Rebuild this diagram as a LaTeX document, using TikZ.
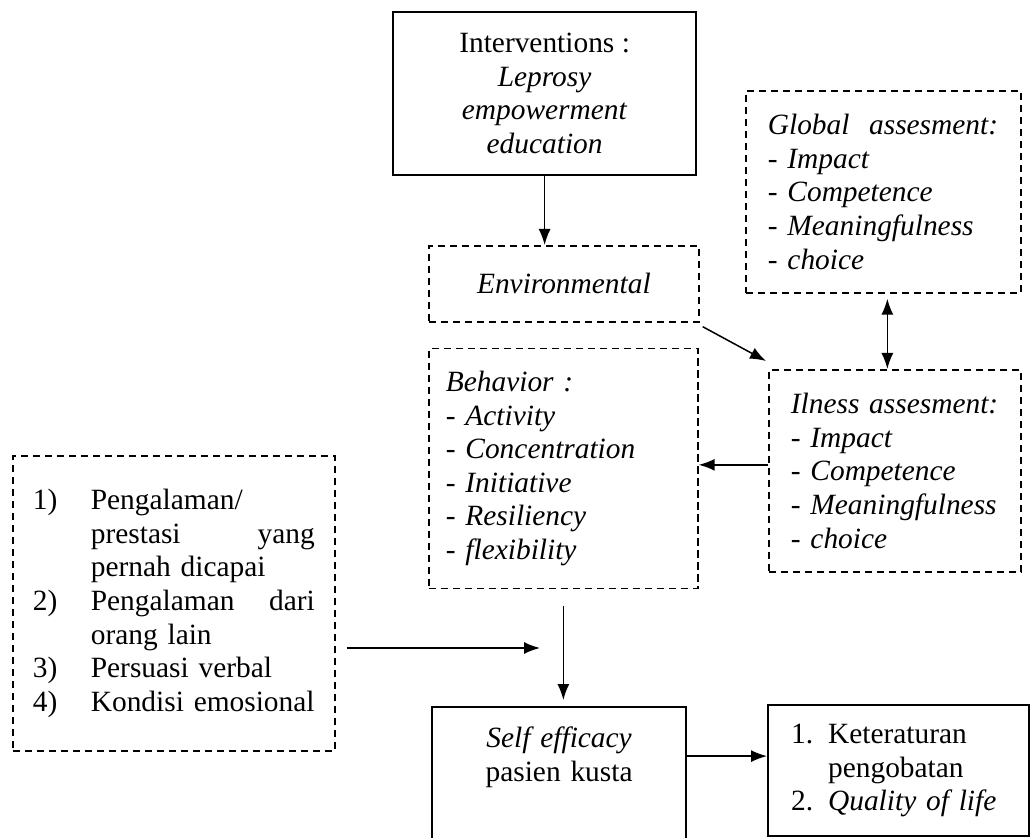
\documentclass[tikz,border=0pt]{standalone}
\usepackage{fontspec}
\setmainfont{Liberation Serif}
\usetikzlibrary{positioning,arrows.meta}
\newcommand{\numat}[2]{\makebox[#1][l]{#2}}

\begin{document}
\begin{tikzpicture}[x=0.5pt, y=-0.5pt, font=\fontsize{14.7}{16.8}\selectfont,
  >={Latex[length=8pt, width=6pt]},
  box/.style={draw, line width=1.1pt, anchor=north west, inner ysep=0pt},
  dbox/.style={box, line width=0.85pt, dash pattern=on 3.6pt off 2.4pt},
  ital/.style={font=\fontsize{14.7}{16.8}\selectfont\itshape},
  arr/.style={->, line width=0.75pt},
  dbl/.style={<->, line width=0.75pt}]
\useasboundingbox (0,0) rectangle (1031,838);

% middle column: intervention, environment, behaviour
\node[box, minimum width=151.5pt, minimum height=81.5pt, inner xsep=0pt, align=center] (intv) at (392,11)
  {Interventions :\\ \textit{Leprosy}\\ \textit{empowerment}\\ \textit{education}};
\node[dbox, ital, minimum width=135pt, minimum height=38pt, align=center] (env) at (428,245) {Environmental};
\node[dbox, ital, below=12.5pt of env.south west, anchor=north west, minimum width=134.5pt, minimum height=120pt,
      inner xsep=8.5pt, text width=117.5pt, align=left] (beh)
  {Behavior :\\ - Activity\\ - Concentration\\ - Initiative\\ - Resiliency\\ - flexibility};

% right column: the two assessments
\node[dbox, ital, minimum width=137.5pt, minimum height=101pt, inner xsep=11pt, text width=115.5pt, align=left] (glob) at (745,90)
  {Global\ \ assesment:\\ - Impact\\ - Competence\\ - Meaningfulness\\ - choice};
\node[dbox, ital, minimum width=126pt, minimum height=101pt, inner xsep=11pt, text width=104pt, align=left] (ill) at (768,369)
  {Ilness assesment:\\ - Impact\\ - Competence\\ - Meaningfulness\\ - choice};

% left: sources of self efficacy
\node[dbox, minimum width=161pt, minimum height=147.5pt, inner xsep=10pt, text width=141pt, align=left] (fac) at (12,455)
  {\numat{29pt}{1)}Pengalaman/\\ \numat{29pt}{}prestasi\hfill yang\\ \numat{29pt}{}pernah dicapai\\
   \numat{29pt}{2)}Pengalaman\hfill dari\\ \numat{29pt}{}orang lain\\
   \numat{29pt}{3)}Persuasi verbal\\ \numat{29pt}{4)}Kondisi emosional};

% bottom row: outcome
\node[box, minimum width=127pt, inner xsep=0pt, inner ysep=10pt, text width=127pt, align=center, text depth=50pt] (self) at (431,706)
  {\textit{Self efficacy}\\ pasien kusta};
\node[box, minimum width=130.5pt, minimum height=65.5pt, inner xsep=11.5pt, text width=107.5pt, align=left] (out) at (767,704)
  {\numat{18.5pt}{1.}Keteraturan\\ \numat{18.5pt}{}pengobatan\\ \numat{18.5pt}{2.}\textit{Quality of life}};

% arrows
\coordinate (meet) at (540,648);
\draw[arr] (intv.south) -- (intv.south |- env.north);
\draw[arr] ([xshift=1.5pt, yshift=-2pt]env.south east) -- ([xshift=-1pt, yshift=4pt]ill.north west);
\draw[dbl, shorten <=2.5pt] ([xshift=2pt]glob.south) -- ([xshift=2pt]glob.south |- ill.north);
\draw[arr] ([yshift=3pt]ill.west) -- ([yshift=3pt]ill.west -| beh.east);
\draw[arr, shorten <=8.5pt, shorten >=3pt] (beh.south) -- (beh.south |- self.north);
\draw[arr, shorten <=5.5pt] (fac.east |- meet) -- (meet);
\draw[arr] ([yshift=7.25pt]out.west -| self.east) -- ([yshift=7.25pt]out.west);
\end{tikzpicture}
\end{document}
